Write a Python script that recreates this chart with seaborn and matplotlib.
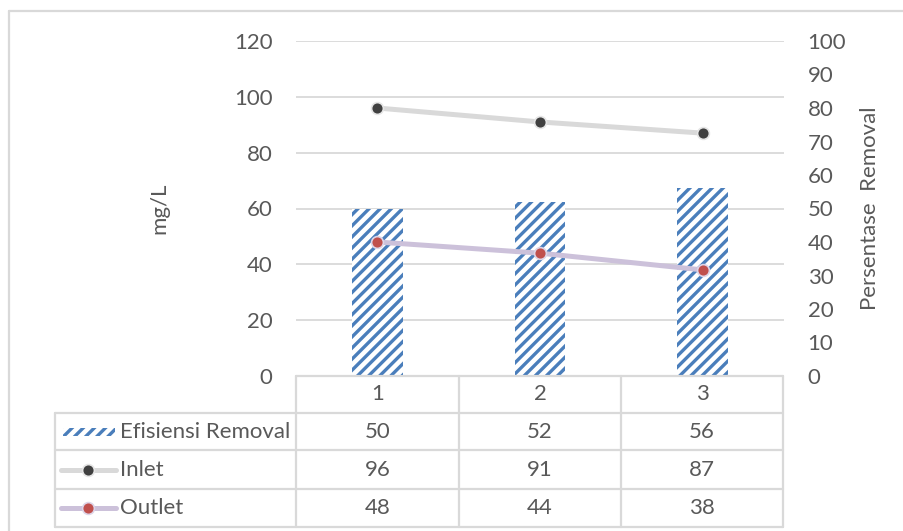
import numpy as np
import pandas as pd
import matplotlib
matplotlib.use("Agg")
import matplotlib.pyplot as plt
from matplotlib.patches import Rectangle
from matplotlib.lines import Line2D
import seaborn as sns

categories = ["1", "2", "3"]
efisiensi = [50, 52, 56]
inlet = [96, 91, 87]
outlet = [48, 44, 38]
row_labels = ["Efisiensi Removal", "Inlet", "Outlet"]
left_ticks = [0, 20, 40, 60, 80, 100, 120]
right_ticks = [0, 10, 20, 30, 40, 50, 60, 70, 80, 90, 100]

sns.set_theme(style="white")
plt.rcParams["font.family"] = ["Lato", "DejaVu Sans"]
TXT = "#595959"
GRID = "#d9d9d9"
BLUE = "#4a7ebb"
FS = 16

W, H = 904, 531
fig = plt.figure(figsize=(W / 100, H / 100), dpi=100)
fig.patch.set_facecolor("white")

def fx(px):
    return px / W

def fy(py):
    return 1 - py / H

x0, x1, y_top, y_bot = 296, 784, 41, 376
ax_bar = fig.add_axes([fx(x0), fy(y_bot), fx(x1) - fx(x0), fy(y_top) - fy(y_bot)])
ax_line = ax_bar.twinx()

df = pd.DataFrame({"cat": categories, "eff": efisiensi,
                   "pos": np.arange(len(categories)),
                   "inlet": inlet, "outlet": outlet})

# hatched bars on the percentage scale
plt.rcParams["hatch.linewidth"] = 2.4
plt.rcParams["hatch.color"] = BLUE
sns.barplot(data=df, x="pos", y="eff", ax=ax_bar, width=0.31,
            color="white", edgecolor="none", linewidth=0, native_scale=True)
for p in ax_bar.patches:
    p.set_hatch("///")
    p.set_facecolor("white")
    p.set_edgecolor(BLUE)
    p.set_linewidth(0)

ax_bar.set_ylim(0, 100)
ax_bar.set_xlim(-0.5, 2.5)
ax_bar.yaxis.tick_right()
ax_bar.yaxis.set_label_position("right")
ax_bar.set_yticks(right_ticks)
ax_bar.set_yticklabels([str(t) for t in right_ticks], color=TXT, fontsize=FS)
ax_bar.tick_params(axis="y", length=0, pad=17)
ax_bar.set_ylabel("Persentase  Removal", color=TXT, fontsize=FS, labelpad=10)
ax_bar.set_xlabel("")
ax_bar.set_xticks([])

# concentration lines on the mg/L scale
sns.lineplot(data=df, x="pos", y="inlet", ax=ax_line, color=GRID, linewidth=3.6,
             marker="o", markersize=8.5, markerfacecolor="#404040",
             markeredgecolor="#e6e6e6", markeredgewidth=1.2, zorder=5)
sns.lineplot(data=df, x="pos", y="outlet", ax=ax_line, color="#ccc1da", linewidth=3.6,
             marker="o", markersize=8.5, markerfacecolor="#c0504d",
             markeredgecolor="#ddd5e8", markeredgewidth=1.2, zorder=5)
ax_line.set_ylim(0, 120)
ax_line.set_xlim(-0.5, 2.5)
ax_line.yaxis.tick_left()
ax_line.yaxis.set_label_position("left")
ax_line.set_yticks(left_ticks)
ax_line.set_yticklabels([str(t) for t in left_ticks], color=TXT, fontsize=FS)
ax_line.tick_params(axis="y", length=0, pad=17)
ax_line.set_ylabel("mg/L", color=TXT, fontsize=FS, labelpad=46)
ax_line.set_xlabel("")
ax_line.set_xticks([])

# gridlines follow the mg/L scale, drawn behind the bars
for t in left_ticks[1:]:
    ax_bar.axhline(t * 100 / 120, color=GRID, linewidth=1.3, zorder=0)

for a in (ax_bar, ax_line):
    for s in a.spines.values():
        s.set_visible(False)
ax_line.patch.set_visible(False)

# data table beneath the plot
row_y = [376, 413, 450, 489, 527]
col_x = [55, 296, 459, 621, 783]
lc = GRID
lw = 1.6

def hline(xa, xb, y):
    fig.add_artist(Line2D([fx(xa), fx(xb)], [fy(y), fy(y)], color=lc, lw=lw))

def vline(x, ya, yb):
    fig.add_artist(Line2D([fx(x), fx(x)], [fy(ya), fy(yb)], color=lc, lw=lw))

hline(col_x[1], col_x[-1], row_y[0])
for y in row_y[1:]:
    hline(col_x[0], col_x[-1], y)
vline(col_x[0], row_y[1], row_y[-1])
for x in col_x[1:]:
    vline(x, row_y[0], row_y[-1])

for j, c in enumerate(categories):
    cx = (col_x[j + 1] + col_x[j + 2]) / 2
    fig.text(fx(cx), fy((row_y[0] + row_y[1]) / 2), c, color=TXT, fontsize=FS,
             ha="center", va="center")

series_vals = [efisiensi, inlet, outlet]
for i, (lab, vals) in enumerate(zip(row_labels, series_vals)):
    cy = (row_y[i + 1] + row_y[i + 2]) / 2
    fig.text(fx(120), fy(cy), lab, color=TXT, fontsize=FS, ha="left", va="center")
    for j, v in enumerate(vals):
        cx = (col_x[j + 1] + col_x[j + 2]) / 2
        fig.text(fx(cx), fy(cy), str(v), color=TXT, fontsize=FS, ha="center", va="center")

# legend keys in the table
cy0 = (row_y[1] + row_y[2]) / 2
key = Rectangle((fx(63), fy(cy0 + 4)), fx(115) - fx(63), fy(cy0 - 4) - fy(cy0 + 4),
                transform=fig.transFigure, facecolor="white", edgecolor=BLUE,
                hatch="///", linewidth=0)
fig.add_artist(key)
for i, (col, mfc, mec) in enumerate([(GRID, "#404040", "#e6e6e6"),
                                     ("#ccc1da", "#c0504d", "#ddd5e8")]):
    cy = (row_y[i + 2] + row_y[i + 3]) / 2
    fig.add_artist(Line2D([fx(61), fx(116)], [fy(cy), fy(cy)], color=col, lw=3.6,
                          solid_capstyle="round"))
    fig.add_artist(Line2D([fx(88)], [fy(cy)], marker="o", markersize=8.5,
                          markerfacecolor=mfc, markeredgecolor=mec,
                          markeredgewidth=1.2, linestyle="none"))

# chart frame
fig.add_artist(Line2D([fx(9), fx(9)], [fy(11), 0], color=GRID, lw=1.6))
fig.add_artist(Line2D([fx(9), 1], [fy(11), fy(11)], color=GRID, lw=1.6))

fig.savefig("out.png", dpi=100)
